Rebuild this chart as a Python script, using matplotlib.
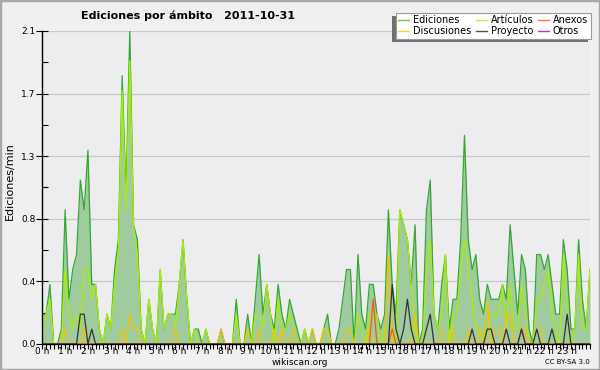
import matplotlib
matplotlib.use('Agg')
import matplotlib.pyplot as plt
import matplotlib.patheffects as pe
from matplotlib.patches import Rectangle
from matplotlib.ticker import FixedLocator, MultipleLocator
import numpy as np

# ediciones por minuto, tramos de 10 minutos (0h .. 24h)
ediciones = [0.2, 0.2, 0.4, 0, 0, 0.1, 0.9, 0.3, 0.5, 0.6, 1.1, 0.9,
             1.3, 0.4, 0.4, 0.1, 0, 0.2, 0.1, 0.5, 0.7, 1.8, 1.0, 2.1,
             0.8, 0.7, 0.1, 0, 0.3, 0.1, 0, 0.5, 0.1, 0.2, 0.2, 0.2,
             0.4, 0.7, 0.3, 0, 0.1, 0.1, 0, 0.1, 0, 0, 0, 0.1,
             0, 0, 0, 0.3, 0, 0, 0.2, 0, 0.3, 0.6, 0.2, 0.4,
             0.2, 0.1, 0.4, 0.2, 0.1, 0.3, 0.2, 0.1, 0, 0.1, 0, 0.1,
             0, 0, 0.1, 0.2, 0, 0, 0.1, 0.3, 0.5, 0.5, 0, 0.6,
             0.2, 0.1, 0.4, 0.4, 0.2, 0.1, 0.2, 0.9, 0.4, 0.2, 0.9, 0.8,
             0.7, 0.4, 0.8, 0, 0.1, 0.9, 1.1, 0.2, 0.1, 0.4, 0.6, 0.1,
             0.3, 0.3, 0.7, 1.4, 0.7, 0.5, 0.6, 0.3, 0.2, 0.4, 0.3, 0.3,
             0.3, 0.4, 0.3, 0.8, 0.5, 0.2, 0.6, 0.5, 0.1, 0, 0.6, 0.6,
             0.5, 0.6, 0.4, 0.2, 0.2, 0.7, 0.5, 0.1, 0.1, 0.7, 0.3, 0.1,
             0.5]
articulos = [0.1, 0.2, 0.3, 0, 0, 0, 0.5, 0.2, 0.1, 0.2, 0.1, 0.5,
             0.5, 0.3, 0.4, 0.1, 0, 0.2, 0.1, 0.4, 0.6, 1.7, 0.9, 1.9,
             0.8, 0.6, 0.1, 0, 0.3, 0.1, 0, 0.5, 0.1, 0.2, 0.2, 0.1,
             0.4, 0.7, 0.3, 0, 0.1, 0, 0, 0.1, 0, 0, 0, 0,
             0, 0, 0, 0.2, 0, 0, 0.1, 0, 0.2, 0.2, 0.1, 0.4,
             0.2, 0, 0.3, 0.1, 0.1, 0.2, 0.1, 0, 0, 0.1, 0, 0,
             0, 0, 0.1, 0.1, 0, 0, 0, 0, 0, 0, 0, 0.2,
             0.1, 0, 0.2, 0.2, 0.2, 0, 0.1, 0.1, 0.1, 0, 0.9, 0.8,
             0.7, 0.4, 0.1, 0, 0, 0.5, 0.7, 0.2, 0.1, 0.2, 0.6, 0,
             0.2, 0.2, 0.5, 0.7, 0.5, 0.3, 0.1, 0.1, 0, 0.1, 0.2, 0.2,
             0.2, 0.4, 0.1, 0.4, 0.1, 0.1, 0.4, 0.2, 0, 0, 0.3, 0.3,
             0.4, 0.5, 0.2, 0.1, 0, 0.6, 0.2, 0, 0.1, 0.6, 0.1, 0.1,
             0.5]
discusiones = [0, 0, 0, 0, 0, 0, 0.1, 0, 0, 0, 0, 0.1,
               0, 0, 0, 0, 0, 0, 0, 0, 0, 0.1, 0, 0.2,
               0.1, 0.1, 0, 0, 0, 0, 0, 0, 0, 0, 0, 0.1,
               0, 0, 0, 0, 0, 0, 0, 0, 0, 0, 0, 0.1,
               0, 0, 0, 0, 0, 0, 0.1, 0, 0, 0.1, 0, 0,
               0, 0.1, 0, 0.1, 0, 0, 0.1, 0, 0, 0, 0, 0.1,
               0, 0, 0.1, 0.1, 0, 0, 0, 0, 0.1, 0.1, 0, 0,
               0, 0, 0.1, 0, 0, 0, 0, 0.6, 0, 0, 0, 0,
               0, 0, 0.2, 0, 0, 0, 0, 0, 0, 0.1, 0, 0,
               0.1, 0, 0, 0, 0.1, 0, 0, 0.1, 0, 0.3, 0, 0.1,
               0.1, 0, 0.2, 0.2, 0, 0, 0.1, 0.1, 0, 0, 0.1, 0.1,
               0, 0, 0, 0, 0, 0, 0, 0, 0, 0, 0, 0,
               0]
anexos = [0] * 145
anexos[87] = 0.3
anexos[92] = 0.1
anexos[126] = 0.1
proyecto = [0, 0, 0, 0, 0, 0, 0, 0, 0, 0, 0.2, 0.2,
            0, 0.1, 0, 0, 0, 0, 0, 0, 0, 0, 0, 0,
            0, 0, 0, 0, 0, 0, 0, 0, 0, 0, 0, 0,
            0, 0, 0, 0, 0, 0, 0, 0, 0, 0, 0, 0,
            0, 0, 0, 0, 0, 0, 0, 0, 0, 0, 0, 0,
            0, 0, 0, 0, 0, 0, 0, 0, 0, 0, 0, 0,
            0, 0, 0, 0, 0, 0, 0, 0, 0, 0, 0, 0,
            0, 0, 0, 0, 0, 0, 0, 0, 0.4, 0.1, 0, 0.1,
            0.3, 0.1, 0, 0, 0, 0.1, 0.2, 0, 0, 0, 0, 0,
            0, 0, 0, 0, 0, 0.1, 0, 0, 0, 0.1, 0.1, 0,
            0, 0, 0.1, 0, 0, 0, 0.1, 0, 0, 0, 0.1, 0,
            0, 0, 0.1, 0, 0, 0, 0.2, 0, 0, 0, 0, 0,
            0]
otros = [0] * 145

horas = np.arange(len(ediciones)) / 6.0
etiquetas_h = ['%d h' % h for h in range(24)]

fig = plt.figure(figsize=(6, 3.7), dpi=100, facecolor='#f0f0f0')
ax = fig.add_axes([0.0705, 0.0703, 0.9128, 0.846])
ax.set_facecolor('#ededf0')

ax.plot(horas, otros, color='#9933ff', lw=0.9, zorder=2)
ax.fill_between(horas, ediciones, color='#9fcb9f', lw=0, zorder=2)
ax.plot(horas, ediciones, color='#33a833', lw=0.9, zorder=3)
ax.plot(horas, articulos, color='#aaee00', lw=0.9, zorder=4)
ax.plot(horas, discusiones, color='#f5c400', lw=0.9, zorder=5)
ax.plot(horas, anexos, color='#ff5511', lw=0.9, zorder=6)
ax.plot(horas, proyecto, color='#333333', lw=0.9, zorder=7)

ax.set_xlim(0, 24)
ax.set_ylim(0, 2.1)
ax.set_xticks(range(24))
ax.set_xticklabels(etiquetas_h, fontsize=6.5)
ax.xaxis.set_minor_locator(MultipleLocator(1 / 6))
ax.tick_params(axis='x', which='both', direction='out', length=3.5, width=0.8, pad=-1.5)

yt = [0, 0.42, 0.84, 1.26, 1.68, 2.1]
ax.set_yticks(yt)
ax.set_yticklabels(['%.1f' % v for v in yt], fontsize=6.5)
ax.yaxis.set_minor_locator(FixedLocator([0.21, 0.63, 1.05, 1.47, 1.89]))
ax.tick_params(axis='y', which='major', direction='inout', length=8, width=0.8, pad=1)
ax.tick_params(axis='y', which='minor', direction='in', length=4, width=0.8)
ax.grid(axis='y', which='major', color='#c8c8c8', lw=0.9, zorder=1)
ax.set_axisbelow(True)

for s in ['top', 'right']:
    ax.spines[s].set_visible(False)
for s in ['left', 'bottom']:
    ax.spines[s].set_color('black')
    ax.spines[s].set_linewidth(1.0)
    ax.spines[s].set_zorder(10)

fig.text(0.313, 0.958, 'Ediciones por ámbito   2011-10-31', ha='center', va='center',
         fontsize=8, fontweight='bold')
fig.text(0.017, 0.51, 'Ediciones/min', rotation=90, ha='center', va='center', fontsize=8)
fig.text(0.5, 0.021, 'wikiscan.org', ha='center', va='center', fontsize=6.5)
fig.text(0.983, 0.021, 'CC BY-SA 3.0', ha='right', va='center', fontsize=5)

nombres = ['Ediciones', 'Discusiones', 'Artículos', 'Proyecto', 'Anexos', 'Otros']
colores = ['#66c466', '#ffcc33', '#ccee44', '#555555', '#ff7744', '#9944ee']
handles = [plt.Line2D([], [], color=c, lw=1) for c in colores]
leg = fig.legend(handles, nombres, ncol=3, loc='upper right', bbox_to_anchor=(0.985, 0.966),
                 fontsize=7, frameon=True, fancybox=False, handlelength=1.1,
                 handletextpad=0.4, columnspacing=0.5, labelspacing=0.05,
                 borderpad=0.3, borderaxespad=0)
marco = leg.get_frame()
marco.set_edgecolor('#999999')
marco.set_linewidth(0.8)
marco.set_facecolor('white')
marco.set_alpha(1)
# sombra a la izquierda y abajo, como en el original
marco.set_path_effects([pe.SimplePatchShadow(offset=(-2.5, -2.5), shadow_rgbFace='#707070', alpha=1),
                        pe.Normal()])

fig.add_artist(Rectangle((0, 0), 1, 1, transform=fig.transFigure, fill=False,
                         edgecolor='#a8a8a8', lw=2.5, zorder=0))

fig.savefig('out.png', dpi=100, facecolor=fig.get_facecolor())
